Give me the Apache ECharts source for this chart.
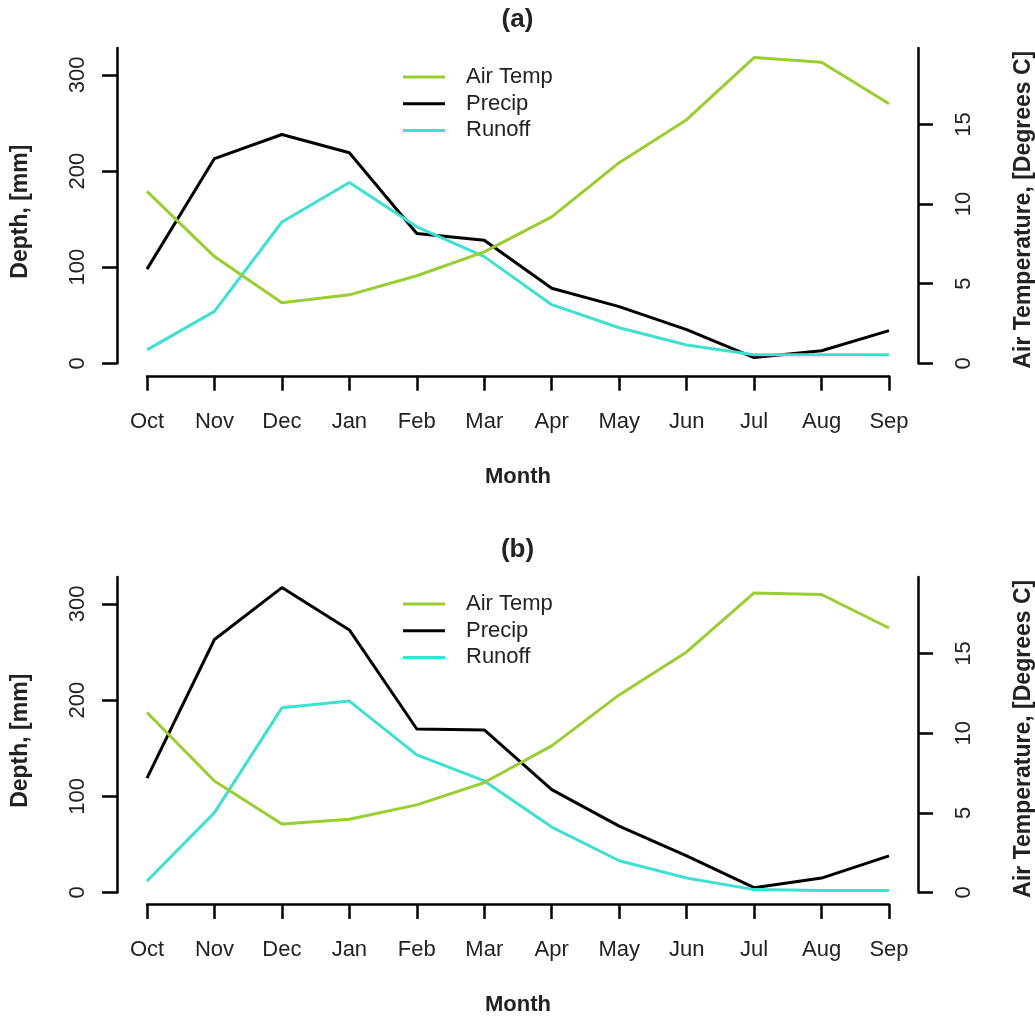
<!DOCTYPE html>
<html>
<head>
<meta charset="utf-8">
<script src="https://cdn.jsdelivr.net/npm/echarts@6/dist/echarts.min.js"></script>
<style>
    html, body { margin: 0; padding: 0; background: #fff; }
    #main { width: 1035px; height: 1017px; }
</style>
</head>
<body>
<div id="main"></div>
<script>
    var months = ['Oct', 'Nov', 'Dec', 'Jan', 'Feb', 'Mar', 'Apr', 'May', 'Jun', 'Jul', 'Aug', 'Sep'];

    // panel (a)
    var precipA = [98, 213, 238, 219, 135, 128, 78, 59, 35, 6, 13, 34];
    var runoffA = [14, 54, 147, 188, 142, 111, 61, 37, 19, 9, 9, 9];
    var tempA = [10.8, 6.7, 3.8, 4.3, 5.5, 7.0, 9.2, 12.6, 15.3, 19.2, 18.9, 16.3];

    // panel (b)
    var precipB = [119, 263, 317, 273, 170, 169, 107, 69, 38, 5, 15, 38];
    var runoffB = [12, 83, 192, 199, 143, 116, 68, 33, 15, 3, 2, 2];
    var tempB = [11.3, 7.0, 4.3, 4.6, 5.5, 6.9, 9.2, 12.4, 15.1, 18.8, 18.7, 16.6];

    var depthTicks = [0, 100, 200, 300];
    var tempTicks = [0, 5, 10, 15];

    var FONT = "'Liberation Sans', Arial, sans-serif";
    var TXT = '#222';
    var GREEN = '#9ACD32';
    var TURQ = '#40E0D0';

    var chart = echarts.init(document.getElementById('main'));

    function xAxisFor(grid, offset) {
        return {
            type: 'category',
            gridIndex: grid,
            data: months,
            boundaryGap: false,
            offset: offset,
            name: 'Month',
            nameLocation: 'middle',
            nameGap: 90,
            nameTextStyle: {fontFamily: FONT, fontSize: 22, fontWeight: 'bold', color: TXT},
            axisLine: {onZero: false, lineStyle: {color: '#000', width: 2.5}},
            axisTick: {length: 15, lineStyle: {color: '#000', width: 2.5}},
            axisLabel: {fontFamily: FONT, fontSize: 22, color: TXT, margin: 35, interval: 0},
            splitLine: {show: false}
        };
    }

    function depthAxis(grid) {
        return {
            type: 'value',
            gridIndex: grid,
            position: 'left',
            min: 0,
            max: 328,
            offset: 30,
            name: 'Depth, [mm]',
            nameLocation: 'middle',
            nameRotate: 90,
            nameGap: 85,
            // R centres the title on the plot region, a bit below the axis middle
            nameTextStyle: {fontFamily: FONT, fontSize: 23, fontWeight: 'bold', color: TXT, padding: [0, 12, 0, 0]},
            axisLine: {show: true, onZero: false, lineStyle: {color: '#000', width: 2.5}},
            axisTick: {show: true, length: 15, customValues: depthTicks, lineStyle: {color: '#000', width: 2.5}},
            axisLabel: {fontFamily: FONT, fontSize: 22, color: TXT, rotate: 90, margin: 28, customValues: depthTicks},
            splitLine: {show: false}
        };
    }

    function tempAxis(grid) {
        return {
            type: 'value',
            gridIndex: grid,
            position: 'right',
            min: 0,
            max: 19.8,
            offset: 29,
            name: 'Air Temperature, [Degrees C]',
            nameLocation: 'middle',
            nameRotate: 90,
            nameGap: 94,
            nameTextStyle: {fontFamily: FONT, fontSize: 23, fontWeight: 'bold', color: TXT, padding: [0, 8, 0, 0]},
            axisLine: {show: true, onZero: false, lineStyle: {color: '#000', width: 2.5}},
            axisTick: {show: true, length: 15, customValues: tempTicks, lineStyle: {color: '#000', width: 2.5}},
            axisLabel: {fontFamily: FONT, fontSize: 22, color: TXT, rotate: 90, margin: 35, customValues: tempTicks},
            splitLine: {show: false}
        };
    }

    function line(name, data, xi, yi, color) {
        return {
            name: name,
            type: 'line',
            xAxisIndex: xi,
            yAxisIndex: yi,
            data: data,
            symbol: 'none',
            lineStyle: {color: color, width: 3},
            itemStyle: {color: color},
            animation: false
        };
    }

    function legendAt(top) {
        return {
            orient: 'vertical',
            left: 403,
            top: top,
            padding: 0,
            icon: 'rect',
            itemWidth: 42,
            itemHeight: 3,
            itemGap: 4.7,
            data: ['Air Temp', 'Precip', 'Runoff'],
            textStyle: {fontFamily: FONT, fontSize: 22, color: TXT, lineHeight: 22, padding: [0, 0, 0, 16]}
        };
    }

    var option = {
        backgroundColor: '#fff',
        animation: false,
        title: [
            {text: '(a)', left: 'center', top: 2, textStyle: {fontFamily: FONT, fontSize: 26, fontWeight: 'bold', color: TXT}},
            {text: '(b)', left: 'center', top: 532, textStyle: {fontFamily: FONT, fontSize: 26, fontWeight: 'bold', color: TXT}}
        ],
        legend: [legendAt(66), legendAt(593)],
        grid: [
            {left: 147, right: 146, top: 48, bottom: 1017 - 363.3, outerBoundsMode: 'none'},
            {left: 147, right: 146, top: 577, bottom: 1017 - 892.5, outerBoundsMode: 'none'}
        ],
        xAxis: [xAxisFor(0, 12.5), xAxisFor(1, 11.5)],
        yAxis: [depthAxis(0), tempAxis(0), depthAxis(1), tempAxis(1)],
        series: [
            line('Precip', precipA, 0, 0, '#000'),
            line('Runoff', runoffA, 0, 0, TURQ),
            line('Air Temp', tempA, 0, 1, GREEN),
            line('Precip', precipB, 1, 2, '#000'),
            line('Runoff', runoffB, 1, 2, TURQ),
            line('Air Temp', tempB, 1, 3, GREEN)
        ]
    };

    chart.setOption(option);
</script>
</body>
</html>
